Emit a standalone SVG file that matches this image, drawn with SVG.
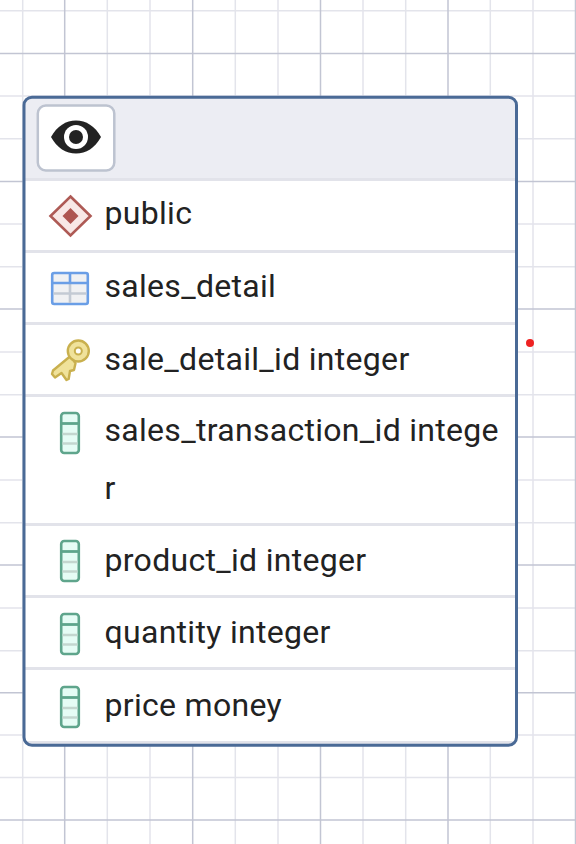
<svg xmlns="http://www.w3.org/2000/svg" width="576" height="844" viewBox="0 0 576 844">
<style>
.mi{stroke:#e3e4eb;stroke-width:1.5;fill:none}
.ma{stroke:#c2c5d3;stroke-width:1.5;fill:none}
.sep{fill:#e2e3ea}
.t{font-family:Roboto,"Liberation Sans",sans-serif;font-size:32px;letter-spacing:.3px;fill:#222222}
</style>
<defs>
<g id="col">
<rect x="-8.800" y="-20" width="17.600" height="40" rx="3" fill="#e6fcf5" stroke="#5fa58c" stroke-width="2.600"/>
<path d="M-7.500 1H7.500M-7.500 10.500H7.500" stroke="#c4d6cf" stroke-width="2.600"/>
<path d="M-8.800 -9.500H8.800" stroke="#5fa58c" stroke-width="2.800"/>
</g>
</defs>
<rect width="576" height="844" fill="#ffffff"/>
<g id="grid">
<path class="mi" d="M0 10.700H576M0 96H576M0 138.700H576M0 224H576M0 266.700H576M0 352H576M0 394.700H576M0 480H576M0 522.700H576M0 608H576M0 650.700H576M0 735H576M0 777.500H576"/>
<path class="mi" d="M22.700 0V844M107.300 0V844M150 0V844M235.300 0V844M278 0V844M363 0V844M405.700 0V844M490.300 0V844M533 0V844"/>
<path class="ma" d="M0 53.500H576M0 181.500H576M0 309H576M0 437H576M0 565H576M0 692.700H576M0 820H576"/>
<path class="ma" d="M64.700 0V844M192.700 0V844M320.500 0V844M448 0V844M575.500 0V844"/>
</g>
<g id="table-node">
<rect x="24" y="97.200" width="492.500" height="648" rx="8" fill="#ffffff"/>
<path d="M24 178V105.200a8 8 0 0 1 8-8H508.500a8 8 0 0 1 8 8V178Z" fill="#ecedf3"/>
<rect class="sep" x="25" y="178" width="490" height="3"/>
<rect class="sep" x="25" y="250" width="490" height="3"/>
<rect class="sep" x="25" y="322" width="490" height="3"/>
<rect class="sep" x="25" y="394" width="490" height="3"/>
<rect class="sep" x="25" y="523" width="490" height="3"/>
<rect class="sep" x="25" y="595" width="490" height="3"/>
<rect class="sep" x="25" y="667" width="490" height="3"/>
<rect class="sep" x="25" y="741" width="490" height="3"/>
<rect x="24" y="97.200" width="492.500" height="648" rx="8" fill="none" stroke="#4a6a96" stroke-width="3"/>
</g>
<g id="eye-button">
<rect x="37.800" y="105.500" width="76.500" height="65" rx="8" fill="#ffffff" stroke="#bdc3d0" stroke-width="2.500"/>
<path d="M51 137C57 126 66 120.500 76 120.500S95 126 101 137C95 148 86 153.500 76 153.500S57 148 51 137Z" fill="#222222"/>
<circle cx="76" cy="137" r="12" fill="#ffffff"/>
<circle cx="76" cy="137" r="7" fill="#222222"/>
</g>
<g id="row-public">
<path d="M70.500 196.500L90.500 216L70.500 235.500L50.500 216Z" fill="#f8e8e6" stroke="#ae5a55" stroke-width="2.600"/>
<path d="M70.500 208L78.500 216L70.500 224L62.500 216Z" fill="#ae5550"/>
<text class="t" x="104.500" y="224">public</text>
</g>
<g id="row-sales-detail">
<rect x="52.200" y="273" width="35.600" height="31" rx="2" fill="#f0f1f3" stroke="#6a9ee6" stroke-width="2.600"/>
<path d="M53.500 293.500H86.500M70 284V303" stroke="#c3cad4" stroke-width="2.600" fill="none"/>
<path d="M52 283H88M70 273V283" stroke="#6a9ee6" stroke-width="2.600" fill="none"/>
<text class="t" x="104.500" y="297">sales_detail</text>
</g>
<g id="row-sale-detail-id">
<path d="M70.500 356L53 370.500L52 374L55 377.500L61.500 373L66.500 380L68.700 379L70 371L74 370L75.500 363.300Z" fill="#f0e29a" stroke="#c9b04e" stroke-width="2.400" stroke-linejoin="round"/>
<circle cx="78.300" cy="351" r="10.500" fill="#f0e29a" stroke="#c9b04e" stroke-width="2.400"/>
<circle cx="78.300" cy="351" r="3.500" fill="#ffffff" stroke="#c9b04e" stroke-width="2"/>
<text class="t" x="104.500" y="370">sale_detail_id integer</text>
</g>
<g id="row-sales-transaction-id">
<use href="#col" x="70" y="433"/>
<text class="t" x="104.500" y="441">sales_transaction_id intege</text>
<text class="t" x="104.500" y="499">r</text>
</g>
<g id="row-product-id">
<use href="#col" x="70" y="561"/>
<text class="t" x="104.500" y="571">product_id integer</text>
</g>
<g id="row-quantity">
<use href="#col" x="70" y="634"/>
<text class="t" x="104.500" y="643">quantity integer</text>
</g>
<g id="row-price">
<use href="#col" x="70" y="707"/>
<text class="t" x="104.500" y="716">price money</text>
</g>
<circle id="red-dot" cx="530" cy="343" r="4" fill="#ee2222"/>
</svg>
